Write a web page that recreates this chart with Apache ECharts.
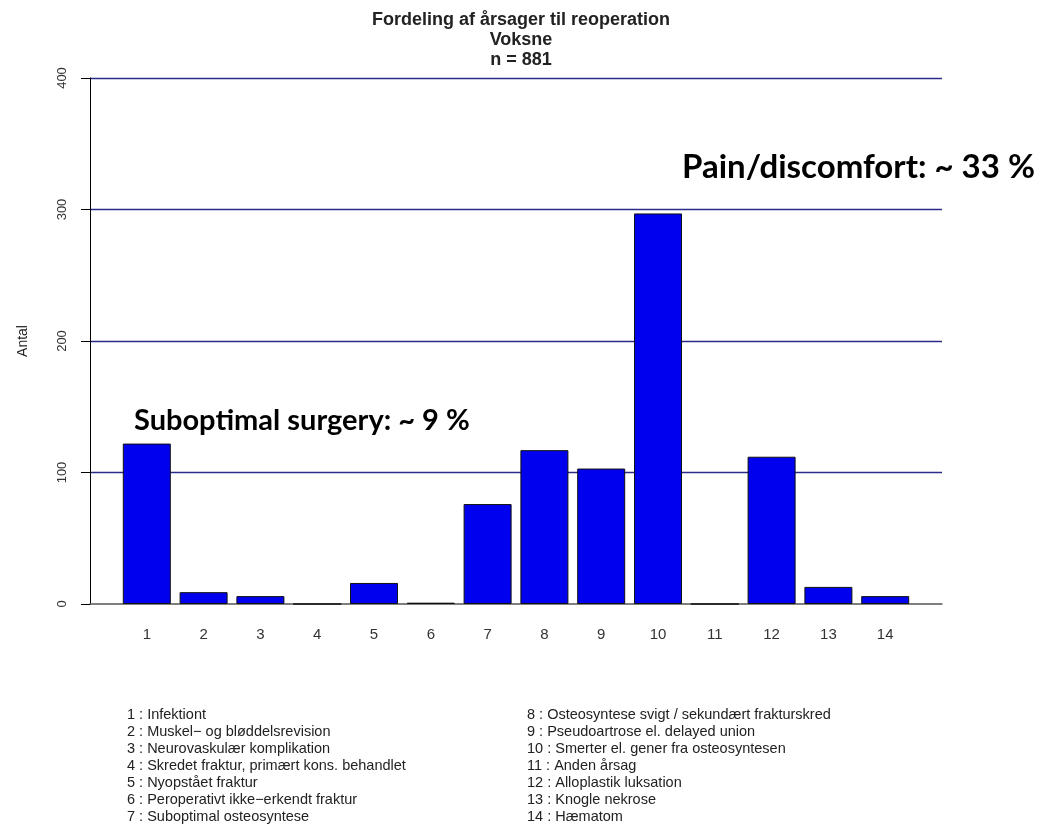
<!DOCTYPE html>
<html>
<head>
<meta charset="utf-8">
<script src="https://cdn.jsdelivr.net/npm/echarts@6/dist/echarts.min.js"></script>
<style>
html,body{margin:0;padding:0;background:#fff;}
#chart{width:1050px;height:833px;}
</style>
</head>
<body>
<div id="chart"></div>
<script>
const categories = [1,2,3,4,5,6,7,8,9,10,11,12,13,14];
const counts = [122, 9, 6, 0, 16, 1, 76, 117, 103, 297, 0, 112, 13, 6];
const yTicks = [0, 100, 200, 300, 400];
const titleLines = ['Fordeling af årsager til reoperation', 'Voksne', 'n = 881'];
const legendLeft = [
  '1 : Infektiont',
  '2 : Muskel\u2212 og bløddelsrevision',
  '3 : Neurovaskulær komplikation',
  '4 : Skredet fraktur, primært kons. behandlet',
  '5 : Nyopstået fraktur',
  '6 : Peroperativt ikke\u2212erkendt fraktur',
  '7 : Suboptimal osteosyntese'
];
const legendRight = [
  '8 : Osteosyntese svigt / sekundært frakturskred',
  '9 : Pseudoartrose el. delayed union',
  '10 : Smerter el. gener fra osteosyntesen',
  '11 : Anden årsag',
  '12 : Alloplastik luksation',
  '13 : Knogle nekrose',
  '14 : Hæmatom'
];
const annotations = [
  {text: 'Pain/discomfort: ~ 33 %', x: 682, y: 151, size: 33},
  {text: 'Suboptimal surgery: ~ 9 %', x: 134, y: 406, size: 29}
];

const chart = echarts.init(document.getElementById('chart'));
const baseFont = '"Liberation Sans", Arial, sans-serif';

const graphics = [];
legendLeft.forEach((t, i) => graphics.push({
  type: 'text', left: 127, top: 707 + i * 17,
  style: {text: t, font: '14.5px ' + baseFont, fill: '#222'}
}));
legendRight.forEach((t, i) => graphics.push({
  type: 'text', left: 527, top: 707 + i * 17,
  style: {text: t, font: '14.5px ' + baseFont, fill: '#222'}
}));
annotations.forEach(a => graphics.push({
  type: 'text', left: a.x, top: a.y,
  style: {text: a.text, font: 'bold ' + a.size + 'px Lato, "Open Sans", sans-serif', fill: '#000'}
}));

chart.setOption({
  animation: false,
  backgroundColor: '#fff',
  title: {
    text: titleLines.join('\n'),
    left: 516,
    textAlign: 'center',
    top: 5,
    textStyle: {
      fontFamily: baseFont,
      fontWeight: 'bold',
      fontSize: 18,
      lineHeight: 20,
      color: '#222'
    }
  },
  grid: {left: 90, right: 108, top: 78, bottom: 229},
  xAxis: {
    type: 'value',
    min: 0,
    max: categories.length + 1,
    interval: 1,
    axisLine: {show: true, lineStyle: {color: '#555', width: 1.5}},
    axisTick: {show: false},
    splitLine: {show: false},
    axisLabel: {
      showMinLabel: false,
      showMaxLabel: false,
      margin: 23,
      fontSize: 15,
      color: '#333',
      fontFamily: baseFont,
      formatter: v => (categories.indexOf(v) >= 0 ? String(v) : '')
    }
  },
  yAxis: {
    type: 'value',
    min: yTicks[0],
    max: yTicks[yTicks.length - 1],
    interval: 100,
    name: 'Antal',
    nameLocation: 'middle',
    nameGap: 60,
    nameRotate: 90,
    nameTextStyle: {fontSize: 14, color: '#222', fontFamily: baseFont},
    axisLine: {show: true, lineStyle: {color: '#000', width: 1}},
    axisTick: {show: true, length: 9, lineStyle: {color: '#000'}},
    axisLabel: {
      rotate: 90,
      margin: 21,
      fontSize: 13,
      color: '#333',
      fontFamily: baseFont
    },
    splitLine: {show: true, showMinLine: false, lineStyle: {color: '#2b2b88', width: 1.3}}
  },
  series: [{
    type: 'bar',
    data: categories.map((c, i) => [c, counts[i]]),
    barWidth: 48,
    itemStyle: {color: '#0000ee', borderColor: '#111', borderWidth: 1}
  }],
  graphic: graphics
});
</script>
</body>
</html>
